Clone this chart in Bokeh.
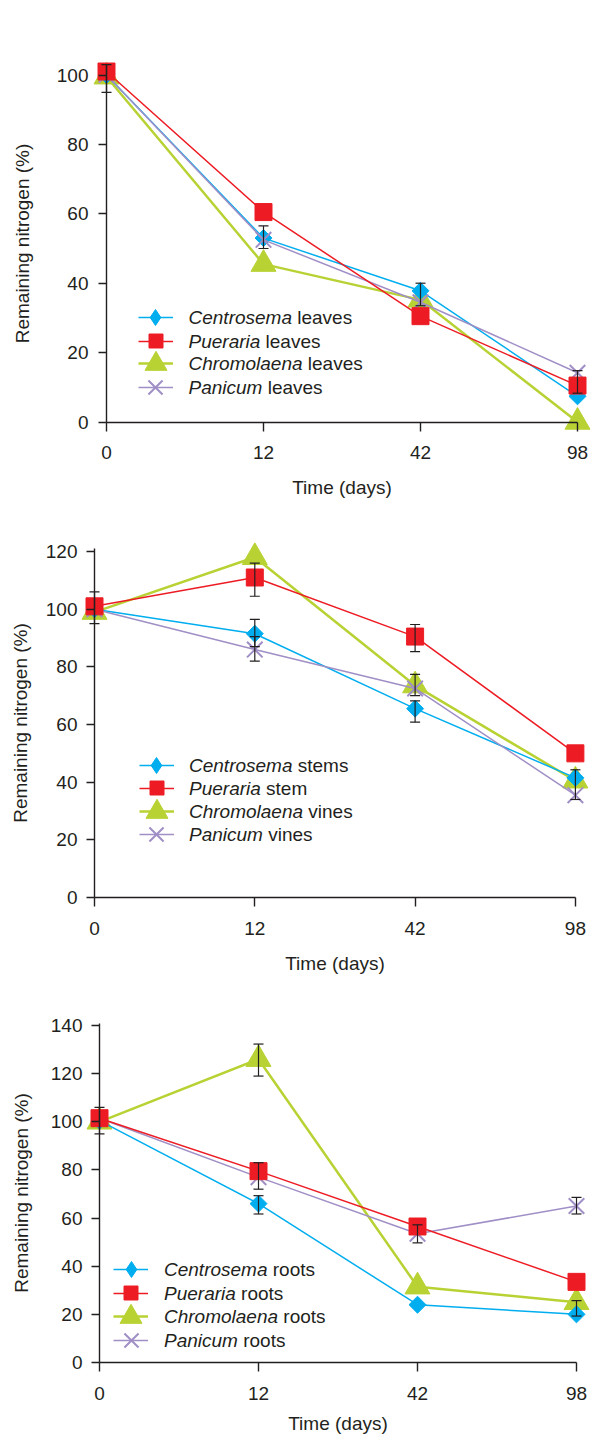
import math
from bokeh.plotting import figure
from bokeh.models import (Range1d, FixedTicker, Whisker, TeeHead, Label, Legend,
                          LegendItem, ColumnDataSource)
from bokeh.layouts import column
from bokeh.embed import file_html
from bokeh.resources import INLINE

# ---------------- data ----------------
days = ["0", "12", "42", "98"]
genera = ["Centrosema", "Pueraria", "Chromolaena", "Panicum"]

leaves_centrosema = [100, 53, 37.8, 7.4]
leaves_pueraria = [101, 60.5, 30.5, 10.5]
leaves_chromolaena = [99.5, 45.5, 35.2, 0]
leaves_panicum = [100, 52.5, 34.5, 14.2]
leaves_err_day = [0, 1, 2, 3]
leaves_err_low = [95, 50, 33.5, 8.3]
leaves_err_high = [103, 56.5, 40, 14.8]
leaves_parts = ["leaves", "leaves", "leaves", "leaves"]
leaves_yticks = [0, 20, 40, 60, 80, 100]

stems_centrosema = [100, 91.5, 65.5, 41.5]
stems_pueraria = [101, 111, 90.5, 50]
stems_chromolaena = [99, 118, 73.5, 40.5]
stems_panicum = [100, 86, 72.5, 35.5]
stems_err_day = [0, 1, 1, 1, 2, 2, 2, 3]
stems_err_low = [95, 104.5, 87, 82, 85.3, 70, 60.8, 34]
stems_err_high = [106, 116, 96.5, 90.5, 94.7, 77.4, 68.2, 44.3]
stems_parts = ["stems", "stem", "vines", "vines"]
stems_yticks = [0, 20, 40, 60, 80, 100, 120]

roots_centrosema = [100.5, 66, 24, 20]
roots_pueraria = [101.5, 79.5, 56.5, 33.5]
roots_chromolaena = [100, 126, 31.5, 25]
roots_panicum = [101.5, 77, 53.5, 65]
roots_err_day = [0, 1, 1, 1, 2, 3, 3]
roots_err_low = [95, 119, 72, 61.7, 49.7, 61.7, 19.3]
roots_err_high = [106, 132.3, 83, 69.3, 57.2, 68.6, 25.7]
roots_parts = ["roots", "roots", "roots", "roots"]
roots_yticks = [0, 20, 40, 60, 80, 100, 120, 140]

y_title = "Remaining nitrogen (%)"
x_title = "Time (days)"

# ---------------- style ----------------
FONT = "Liberation Sans"
TXT = "#231f20"
FS = "19px"
FSN = 19.0
COLORS = {"Centrosema": "#00aeef", "Pueraria": "#ed1c24",
          "Chromolaena": "#b8d234", "Panicum": "#a08fc6"}
LINEW = {"Centrosema": 1.5, "Pueraria": 1.5, "Chromolaena": 2.5, "Panicum": 1.5}
MARK = {"Centrosema": dict(marker="square", size=12, angle=math.pi / 4),
        "Pueraria": dict(marker="square", size=17, angle=0),
        "Chromolaena": dict(marker="triangle", size=25, angle=0),
        "Panicum": dict(marker="x", size=22, angle=0)}
LEG_MARKER = {"Centrosema": "diamond", "Pueraria": "square",
              "Chromolaena": "triangle", "Panicum": "x"}
LEG_SIZE = {"Centrosema": 16, "Pueraria": 14, "Chromolaena": 22, "Panicum": 20}
ORDER = ["Chromolaena", "Centrosema", "Panicum", "Pueraria"]

# Arial / Liberation Sans advance widths (per 1000 em)
ADV = {'C': 722, 'e': 556, 'n': 556, 't': 278, 'r': 333, 'o': 556, 's': 500,
       'm': 833, 'a': 556, 'P': 667, 'u': 556, 'i': 222, 'h': 556, 'l': 222,
       'c': 500, ' ': 278}


def text_w(s, size):
    return sum(ADV.get(ch, 556) for ch in s) / 1000.0 * size


W = 600
# page-pixel layout of each panel (figure spans the whole frame)
G1 = dict(top=0, bottom=512, x0=106, dx=157, y0=421.5, dy=3.47, ytop=103,
          ystand=10, ytitle=21, xtitle=14, leg_x=155, leg_tx=188,
          leg_y=[316.7, 340.7, 363.3, 387.3])
G2 = dict(top=512, bottom=985, x0=94, dx=160.3, y0=897, dy=2.883, ytop=121,
          ystand=9, ytitle=12, xtitle=15, leg_x=156, leg_tx=188.5,
          leg_y=[765, 787.7, 811, 833.5])
G3 = dict(top=985, bottom=1450, x0=99, dx=159, y0=1362, dy=2.407, ytop=141,
          ystand=9, ytitle=16, xtitle=10, leg_x=130.5, leg_tx=163.5,
          leg_y=[1269, 1292.7, 1316, 1340])


def build(series, parts, err_day, err_low, err_high, yticks, g):
    H = g["bottom"] - g["top"]
    x_start = (0 - g["x0"]) / g["dx"]
    x_end = (W - g["x0"]) / g["dx"]
    y_start = (g["y0"] - g["bottom"]) / g["dy"]
    y_end = (g["y0"] - g["top"]) / g["dy"]
    p = figure(width=W, height=H, output_backend="svg", toolbar_location=None,
               min_border=0, min_border_left=0, min_border_right=0,
               min_border_top=0, min_border_bottom=0,
               x_range=Range1d(x_start, x_end), y_range=Range1d(y_start, y_end))
    p.xgrid.visible = False
    p.ygrid.visible = False
    p.outline_line_color = None

    xs = list(range(len(days)))
    xa = p.xaxis[0]
    xa.fixed_location = 0
    xa.bounds = (0, len(days) - 1)
    xa.ticker = FixedTicker(ticks=xs)
    xa.major_label_overrides = {i: d for i, d in enumerate(days)}
    xa.major_tick_in = 0
    xa.major_tick_out = 9
    xa.major_label_standoff = 15
    xa.axis_label = x_title
    xa.axis_label_standoff = g["xtitle"]
    ya = p.yaxis[0]
    ya.fixed_location = 0
    ya.bounds = (0, g["ytop"])
    ya.ticker = FixedTicker(ticks=yticks)
    ya.major_tick_in = 0
    ya.major_tick_out = 8
    ya.major_label_standoff = g["ystand"]
    ya.axis_label = y_title
    ya.axis_label_standoff = g["ytitle"]
    for ax in (xa, ya):
        ax.minor_tick_line_color = None
        ax.axis_line_color = TXT
        ax.axis_line_width = 1.4
        ax.major_tick_line_color = TXT
        ax.major_tick_line_width = 1.4
        ax.major_label_text_font = FONT
        ax.major_label_text_font_size = FS
        ax.major_label_text_color = TXT
        ax.axis_label_text_font = FONT
        ax.axis_label_text_font_size = FS
        ax.axis_label_text_font_style = "normal"
        ax.axis_label_text_color = TXT

    rend = {}
    for name in ORDER:
        vals = series[name]
        ln = p.line(xs, vals, line_color=COLORS[name], line_width=LINEW[name])
        m = MARK[name]
        lw = 2 if name == "Panicum" else 1
        p.scatter(xs, vals, marker=m["marker"], size=m["size"], angle=m["angle"],
                  fill_color=COLORS[name], line_color=COLORS[name], line_width=lw)
        # hidden twin used only for the legend swatch
        lg = p.scatter(xs, vals, marker=LEG_MARKER[name], size=LEG_SIZE[name],
                       fill_color=COLORS[name], line_color=COLORS[name],
                       line_width=lw, visible=False)
        rend[name] = (ln, lg)

    src = ColumnDataSource(dict(base=err_day, lower=err_low, upper=err_high))
    wh = Whisker(source=src, base="base", lower="lower", upper="upper",
                 dimension="height", line_color=TXT, line_width=1.2, level="annotation",
                 upper_head=TeeHead(size=10, line_color=TXT, line_width=1.2),
                 lower_head=TeeHead(size=10, line_color=TXT, line_width=1.2))
    p.add_layout(wh)

    # legend: swatches via Legend objects, texts (italic genus + part) via Labels
    fb = g["bottom"]
    for k, name in enumerate(genera):
        cy = g["leg_y"][k]
        cx = g["leg_x"]
        ln, lg = rend[name]
        box = LEG_SIZE[name] / 0.4
        for r, w, h in ((ln, 35, 10), (lg, box, box)):
            leg = Legend(items=[LegendItem(label=" ", renderers=[r])],
                         location=(cx - w / 2.0, fb - cy - h / 2.0),
                         glyph_width=int(round(w)), glyph_height=int(round(h)),
                         label_height=int(round(h)), label_width=0, label_standoff=0,
                         padding=0, margin=0, spacing=0, border_line_color=None,
                         background_fill_alpha=0, label_text_font_size="1px")
            p.add_layout(leg)
        tx = g["leg_tx"]
        p.add_layout(Label(x=tx, y=fb - cy, x_units="screen", y_units="screen",
                           text=name, text_font=FONT, text_font_style="italic",
                           text_font_size=FS, text_color=TXT, text_align="left",
                           text_baseline="middle"))
        p.add_layout(Label(x=tx + text_w(name + " ", FSN), y=fb - cy,
                           x_units="screen", y_units="screen", text=parts[k],
                           text_font=FONT, text_font_size=FS, text_color=TXT,
                           text_align="left", text_baseline="middle"))
    return p


p1 = build({"Centrosema": leaves_centrosema, "Pueraria": leaves_pueraria,
            "Chromolaena": leaves_chromolaena, "Panicum": leaves_panicum},
           leaves_parts, leaves_err_day, leaves_err_low, leaves_err_high, leaves_yticks, G1)
p2 = build({"Centrosema": stems_centrosema, "Pueraria": stems_pueraria,
            "Chromolaena": stems_chromolaena, "Panicum": stems_panicum},
           stems_parts, stems_err_day, stems_err_low, stems_err_high, stems_yticks, G2)
p3 = build({"Centrosema": roots_centrosema, "Pueraria": roots_pueraria,
            "Chromolaena": roots_chromolaena, "Panicum": roots_panicum},
           roots_parts, roots_err_day, roots_err_low, roots_err_high, roots_yticks, G3)

layout = column(p1, p2, p3, spacing=0)
open("out.html", "w").write(file_html(layout, INLINE))
